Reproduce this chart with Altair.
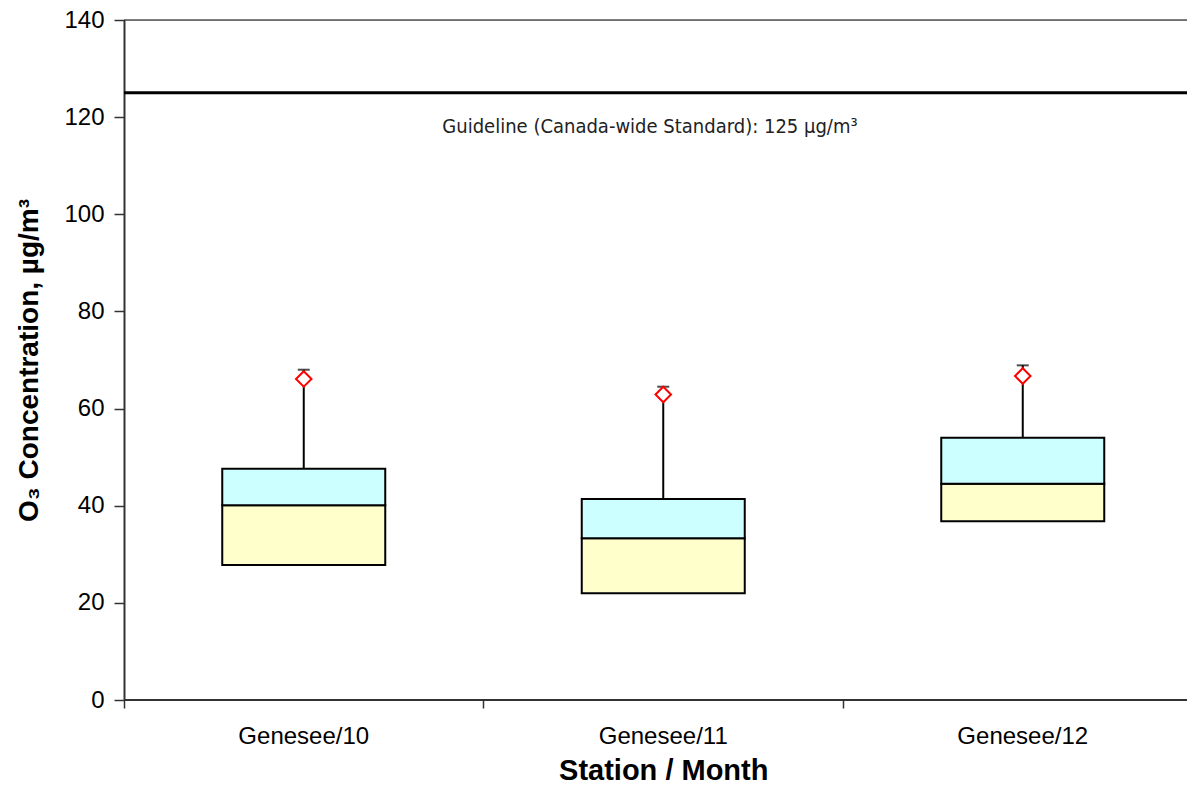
import altair as alt
import pandas as pd

categories = ["Genesee/10", "Genesee/11", "Genesee/12"]
q1 = [27.8, 22.0, 36.8]
median = [40.1, 33.3, 44.5]
q3 = [47.6, 41.4, 54.0]
upper = [68.0, 64.5, 68.9]
marker = [66.1, 62.9, 66.7]
guideline = 125
guideline_label = "Guideline (Canada-wide Standard): 125 µg/m³"

df = pd.DataFrame({"cat": categories, "q1": q1, "median": median, "q3": q3,
                   "upper": upper, "marker": marker})
gdf = pd.DataFrame({"g": [guideline], "label": [guideline_label], "ly": [118], "zero": [0]})

FONT = "Liberation Sans"

xscale = alt.Scale(paddingInner=0, paddingOuter=0, range=[0, 1078.5])
x = alt.X("cat:N", sort=categories, scale=xscale,
          axis=alt.Axis(title="Station / Month", labelAngle=0, bandPosition=0,
                        labelFontSize=24, labelFont=FONT, labelColor="black",
                        labelPadding=16, tickSize=8, tickColor="#333", tickWidth=1.5,
                        domain=False,
                        titleFont=FONT, titleFontSize=29, titleFontWeight="bold",
                        titleColor="black", titlePadding=8))
yscale = alt.Scale(domain=[0, 140], nice=False, zero=True)
yaxis = alt.Axis(title="O₃ Concentration, µg/m³", values=list(range(0, 141, 20)),
                 labelFontSize=24, labelFont=FONT, labelColor="black", labelPadding=10,
                 tickSize=10, tickColor="#333", tickWidth=1.5,
                 domainColor="#333", domainWidth=2, grid=False,
                 titleFont=FONT, titleFontSize=28, titleFontWeight="bold",
                 titleColor="black", titlePadding=20)

base = alt.Chart(df)

lower_box = base.mark_bar(size=163, fill="#FFFFCC", stroke="black", strokeWidth=2).encode(
    x=x, y=alt.Y("q1:Q", scale=yscale, axis=yaxis), y2="median:Q")
upper_box = base.mark_bar(size=163, fill="#CCFFFF", stroke="black", strokeWidth=2).encode(
    x=x, y=alt.Y("median:Q", scale=yscale), y2="q3:Q")
whisker = base.mark_rule(color="black", strokeWidth=2).encode(
    x=x, y=alt.Y("q3:Q", scale=yscale), y2="upper:Q")
cap = base.mark_tick(color="black", size=12, thickness=2).encode(
    x=x, y=alt.Y("upper:Q", scale=yscale))
pts = base.mark_point(shape="diamond", size=240, filled=False, fill="white",
                      stroke="red", strokeWidth=2, opacity=1).encode(
    x=x, y=alt.Y("marker:Q", scale=yscale))

gl = alt.Chart(gdf).mark_rule(color="black", strokeWidth=3).encode(
    y=alt.Y("g:Q", scale=yscale))
gt = alt.Chart(gdf).mark_text(font="'Liberation Sans Narrow', 'DejaVu Sans Condensed', 'Liberation Sans'",
                              fontSize=20, color="#222",
                              align="center", baseline="middle").encode(
    x=alt.value(526), y=alt.Y("ly:Q", scale=yscale), text="label:N")
top = alt.Chart(gdf).mark_rule(color="black", strokeWidth=1).encode(
    y=alt.value(0))
xaxis_line = alt.Chart(gdf).mark_rule(color="#333", strokeWidth=2).encode(
    y=alt.Y("zero:Q", scale=yscale))

chart = alt.layer(top, lower_box, upper_box, whisker, cap, pts, gl, gt, xaxis_line).properties(
    width=1063, height=680,
    autosize=alt.AutoSizeParams(type="none"),
    padding={"left": 116, "top": 12, "right": 0, "bottom": 84},
).configure_view(stroke=None).configure(background="white")

chart.save("out.html", embed_options={"renderer": "svg", "actions": False})
